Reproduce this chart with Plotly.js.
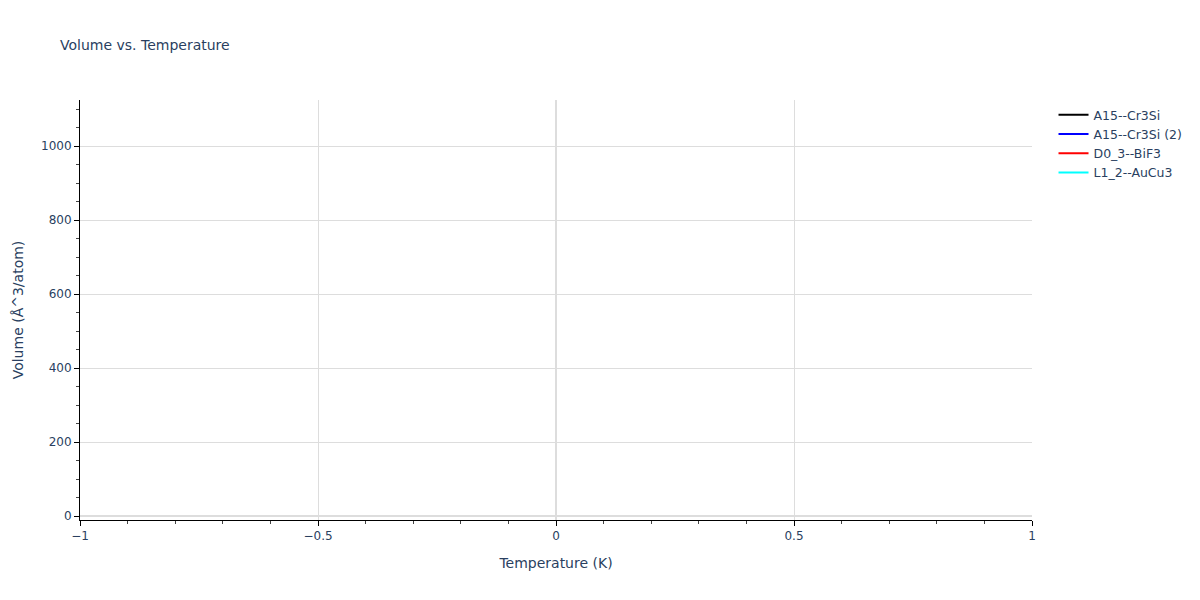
<!DOCTYPE html>
<html>
<head>
<meta charset="utf-8">
<script src="https://cdn.plot.ly/plotly-3.0.1.min.js"></script>
<style>body{margin:0;}</style>
</head>
<body>
<div id="myDiv" style="width:1200px;height:600px;"></div>
<script>
// one sample per structure, nothing else is plotted
var names = ['A15--Cr3Si', 'A15--Cr3Si (2)', 'D0_3--BiF3', 'L1_2--AuCu3']
var colors = ['black', 'blue', 'red', 'cyan']
var temperature = [[0], [0], [0], [0]]
var volume = [[15.2], [15.2], [27.9], [16.4]]

var data = []
var i
for(i=0;i<names.length;i++)
{
	data.push({
		x: temperature[i],
		y: volume[i],
		mode: 'lines',
		name: names[i],
		line: {color: colors[i]}
	})
}

var axisStyle = {
	showline: true,
	linecolor: 'black',
	linewidth: 1,
	ticks: 'outside',
	ticklen: 5,
	tickcolor: 'black',
	gridcolor: '#dddddd',
	zeroline: true,
	zerolinecolor: '#dddddd',
	zerolinewidth: 2,
	automargin: true
}

var layout = {
	title: {text: 'Volume vs. Temperature', x: 0.05, font: {size: 14}},
	font: {family: 'verdana, "DejaVu Sans", sans-serif', color: '#2a3f5f', size: 12},
	paper_bgcolor: 'white',
	plot_bgcolor: 'white',
	margin: {l: 80, r: 80, t: 100, b: 80},
	xaxis: Object.assign({}, axisStyle, {
		title: {text: 'Temperature (K)', standoff: 15},
		range: [-1, 1],
		dtick: 0.5,
		minor: {dtick: 0.1, ticks: 'outside', ticklen: 3, tickcolor: '#444', showgrid: false}
	}),
	yaxis: Object.assign({}, axisStyle, {
		title: {text: 'Volume (Å^3/atom)', standoff: 14},
		range: [-10.8, 1124.7],
		dtick: 200,
		minor: {dtick: 50, ticks: 'outside', ticklen: 3, tickcolor: '#444', showgrid: false}
	}),
	legend: {font: {size: 12.5}, x: 1.0226},
	showlegend: true
}

Plotly.newPlot('myDiv', data, layout, {displayModeBar: false})
</script>
</body>
</html>
